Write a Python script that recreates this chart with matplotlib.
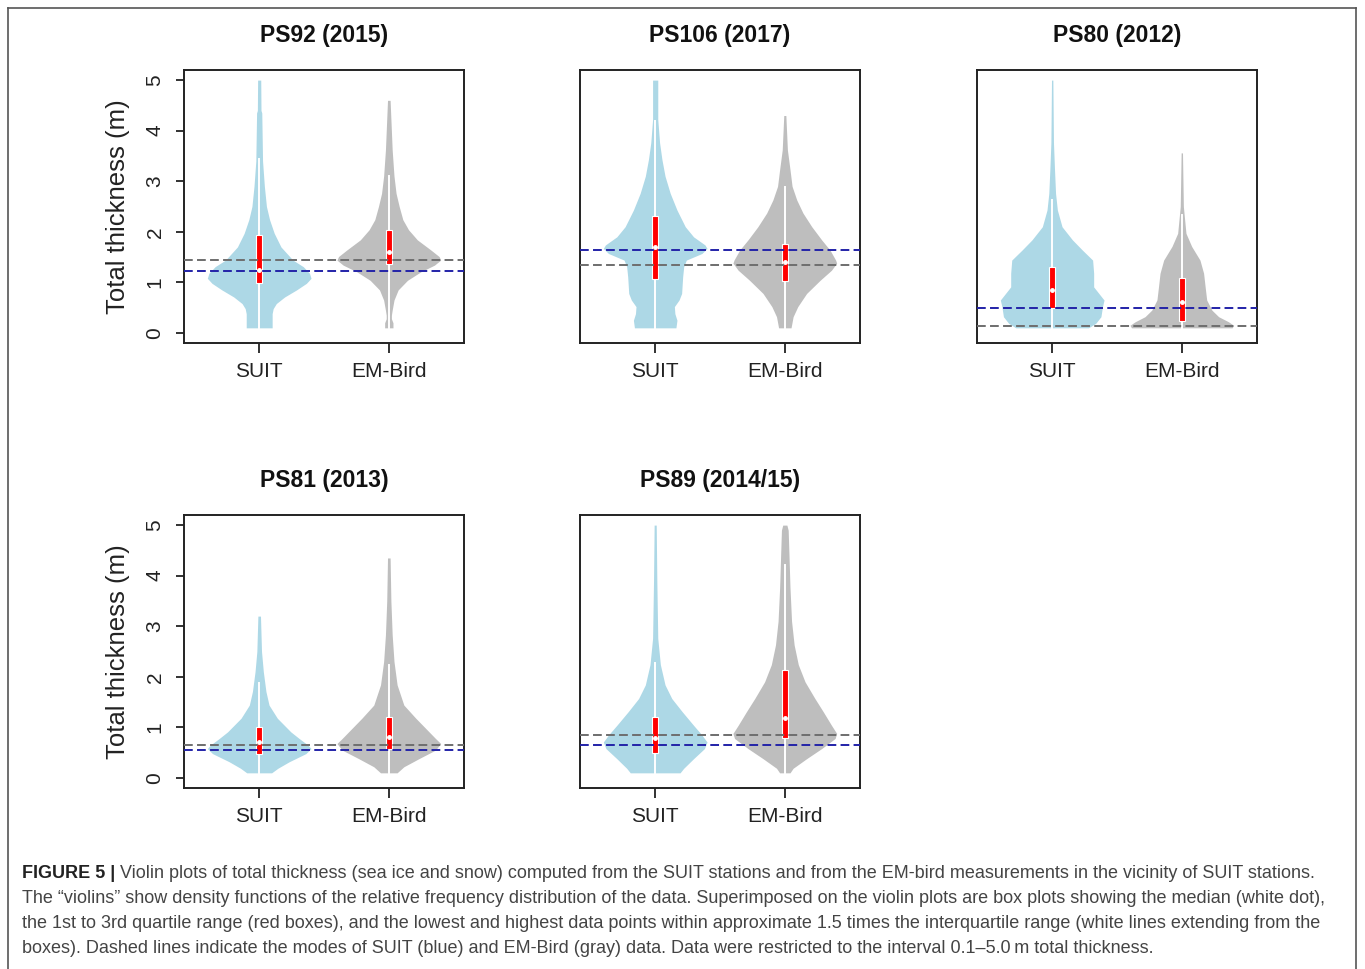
import matplotlib
matplotlib.use("Agg")
import matplotlib.pyplot as plt
from matplotlib.patches import Rectangle
from matplotlib.lines import Line2D
import numpy as np

plt.rcParams['font.family'] = ['Liberation Sans', 'DejaVu Sans']

W, H = 1365, 969

titles = ["PS92 (2015)", "PS106 (2017)", "PS80 (2012)", "PS81 (2013)", "PS89 (2014/15)"]
groups = ["SUIT", "EM-Bird"]

# violin profiles: thickness levels (m) and relative half-width (1 = widest)
suit_y = [
    [0.1, 0.2, 0.38, 0.48, 0.58, 0.71, 0.85, 0.98, 1.08, 1.18, 1.31, 1.44, 1.7, 1.97, 2.24, 2.5, 2.9, 3.4, 4.35, 4.4, 5.0],
    [0.1, 0.25, 0.38, 0.52, 0.65, 0.78, 1.11, 1.31, 1.44, 1.57, 1.67, 1.74, 1.9, 2.1, 2.43, 2.76, 3.1, 3.43, 3.76, 4.22, 5.0],
    [0.1, 0.19, 0.32, 0.52, 0.65, 0.78, 0.91, 1.18, 1.44, 1.64, 1.84, 2.1, 2.43, 2.76, 3.23, 3.76, 5.0],
    [0.1, 0.19, 0.32, 0.48, 0.58, 0.65, 0.78, 0.91, 1.18, 1.44, 1.71, 2.1, 2.5, 3.2],
    [0.1, 0.19, 0.38, 0.58, 0.71, 0.85, 1.04, 1.31, 1.57, 1.84, 2.24, 2.76, 3.89, 5.0],
]
suit_w = [
    [0.25, 0.25, 0.25, 0.27, 0.33, 0.49, 0.72, 0.91, 1.0, 0.97, 0.85, 0.65, 0.42, 0.29, 0.2, 0.14, 0.1, 0.065, 0.05, 0.035, 0.03],
    [0.4, 0.42, 0.38, 0.37, 0.46, 0.51, 0.53, 0.55, 0.6, 0.9, 1.0, 0.96, 0.74, 0.58, 0.42, 0.29, 0.19, 0.13, 0.085, 0.05, 0.05],
    [0.7, 0.84, 0.94, 0.97, 1.0, 0.9, 0.8, 0.8, 0.78, 0.58, 0.39, 0.19, 0.1, 0.065, 0.045, 0.025, 0.013],
    [0.24, 0.36, 0.58, 0.9, 1.0, 0.94, 0.77, 0.61, 0.35, 0.19, 0.13, 0.08, 0.045, 0.025],
    [0.48, 0.55, 0.74, 0.95, 1.0, 0.9, 0.74, 0.52, 0.32, 0.19, 0.1, 0.05, 0.032, 0.02],
]
emb_y = [
    [0.1, 0.2, 0.28, 0.35, 0.45, 0.65, 0.85, 1.04, 1.21, 1.34, 1.44, 1.51, 1.64, 1.84, 2.04, 2.24, 2.5, 2.76, 3.1, 3.62, 4.6],
    [0.1, 0.32, 0.52, 0.78, 1.04, 1.24, 1.38, 1.44, 1.64, 1.84, 2.1, 2.37, 2.63, 2.9, 3.23, 3.62, 4.3],
    [0.1, 0.15, 0.22, 0.32, 0.45, 0.65, 0.91, 1.18, 1.44, 1.71, 1.97, 2.5, 3.56],
    [0.1, 0.22, 0.38, 0.55, 0.68, 0.78, 0.98, 1.18, 1.44, 1.84, 2.3, 2.83, 3.5, 4.35],
    [0.1, 0.19, 0.38, 0.58, 0.78, 0.88, 1.04, 1.31, 1.57, 1.9, 2.24, 2.63, 3.1, 3.76, 4.42, 4.9, 5.0],
]
emb_w = [
    [0.08, 0.08, 0.05, 0.05, 0.065, 0.1, 0.18, 0.36, 0.62, 0.88, 1.0, 0.97, 0.81, 0.55, 0.38, 0.27, 0.2, 0.14, 0.1, 0.065, 0.025],
    [0.12, 0.16, 0.25, 0.42, 0.68, 0.9, 1.0, 0.98, 0.87, 0.71, 0.52, 0.35, 0.23, 0.14, 0.1, 0.05, 0.02],
    [0.97, 1.0, 0.9, 0.71, 0.58, 0.48, 0.45, 0.42, 0.35, 0.19, 0.08, 0.03, 0.013],
    [0.16, 0.29, 0.58, 0.9, 1.0, 0.9, 0.71, 0.52, 0.29, 0.16, 0.1, 0.065, 0.04, 0.025],
    [0.1, 0.16, 0.42, 0.71, 0.97, 1.0, 0.9, 0.74, 0.58, 0.39, 0.26, 0.18, 0.13, 0.1, 0.08, 0.065, 0.04],
]

# box plot stats: q1, median, q3, upper whisker (lower whisker = 0.1)
suit_q1 = [0.98, 1.06, 0.5, 0.48, 0.5]
suit_med = [1.24, 1.69, 0.85, 0.71, 0.78]
suit_q3 = [1.94, 2.32, 1.31, 1.01, 1.2]
suit_whi = [3.43, 4.2, 2.63, 1.87, 2.27]
emb_q1 = [1.36, 1.03, 0.24, 0.58, 0.79]
emb_med = [1.6, 1.41, 0.62, 0.81, 1.18]
emb_q3 = [2.04, 1.76, 1.08, 1.2, 2.14]
emb_whi = [3.1, 2.88, 2.33, 2.24, 4.22]
whisker_lo = 0.1

# modes (dashed lines)
suit_mode = [1.23, 1.64, 0.5, 0.55, 0.65]
emb_mode = [1.44, 1.35, 0.14, 0.65, 0.85]

caption_bold = "FIGURE 5 |"
caption_lines = [
    " Violin plots of total thickness (sea ice and snow) computed from the SUIT stations and from the EM-bird measurements in the vicinity of SUIT stations.",
    "The \u201cviolins\u201d show density functions of the relative frequency distribution of the data. Superimposed on the violin plots are box plots showing the median (white dot),",
    "the 1st to 3rd quartile range (red boxes), and the lowest and highest data points within approximate 1.5 times the interquartile range (white lines extending from the",
    "boxes). Dashed lines indicate the modes of SUIT (blue) and EM-Bird (gray) data. Data were restricted to the interval 0.1\u20135.0\u2009m total thickness.",
]

col_left = [184, 580, 977]
row_top = [70, 515]
ax_w, ax_h = 280, 273

fig = plt.figure(figsize=(W / 100, H / 100), dpi=100)

# outer frame
fc = "#555555"
fig.add_artist(Line2D([8 / W, 8 / W], [0, 1 - 8 / H], transform=fig.transFigure, color=fc, lw=1.2))
fig.add_artist(Line2D([1356 / W, 1356 / W], [0, 1 - 8 / H], transform=fig.transFigure, color=fc, lw=1.2))
fig.add_artist(Line2D([8 / W, 1356 / W], [1 - 8 / H, 1 - 8 / H], transform=fig.transFigure, color=fc, lw=1.2))


def violin(ax, pos, y, w, color, q1, med, q3, whi):
  y = np.array(y)
  w = np.array(w) * 0.4
  ax.fill_betweenx(y, pos - w, pos + w, color=color, lw=0, zorder=2)
  ax.plot([pos, pos], [whisker_lo, whi], color="white", lw=1.4, zorder=3)
  ax.add_patch(Rectangle((pos - 0.021, q1), 0.042, q3 - q1, facecolor="red",
                         edgecolor="white", lw=0.8, zorder=4))
  ax.plot([pos], [med], marker="o", ms=2.5, color="white", mec="white", zorder=6)


for i in range(5):
  r, c = divmod(i, 3)
  left = col_left[c]
  top = row_top[r]
  ax = fig.add_axes([left / W, 1 - (top + ax_h) / H, ax_w / W, ax_h / H])
  violin(ax, 1, suit_y[i], suit_w[i], "#add8e6", suit_q1[i], suit_med[i], suit_q3[i], suit_whi[i])
  violin(ax, 2, emb_y[i], emb_w[i], "#bebebe", emb_q1[i], emb_med[i], emb_q3[i], emb_whi[i])
  ax.axhline(emb_mode[i], color="#6e6e6e", lw=1.4, ls=(0, (4.5, 2.2)), zorder=5)
  ax.axhline(suit_mode[i], color="#2323a8", lw=1.4, ls=(0, (4.5, 2.2)), zorder=5)
  ax.set_xlim(0.42, 2.58)
  ax.set_ylim(-0.2, 5.2)
  ax.set_xticks([1, 2])
  ax.set_xticklabels(groups, fontsize=15)
  ax.tick_params(axis="x", length=7, width=1.3, pad=7, colors="#222222")
  for sp in ax.spines.values():
    sp.set_linewidth(1.4)
    sp.set_color("#222222")
  if c == 0:
    ax.set_yticks([0, 1, 2, 3, 4, 5])
    ax.tick_params(axis="y", length=6, width=1.3, pad=8, labelsize=15,
                   labelrotation=90, colors="#222222")
    for lab in ax.get_yticklabels():
      lab.set_verticalalignment("center")
    ax.text(-0.236, 0.5, "Total thickness (m)", transform=ax.transAxes, rotation=90,
            ha="center", va="center", fontsize=18.5, color="#222222")
  else:
    ax.set_yticks([])
  ax.text(0.5, 1 + 35 / ax_h, titles[i], transform=ax.transAxes, ha="center",
          va="center", fontsize=16.5, fontweight="bold", color="#111111")

# caption
cap_size = 13
y0 = 878
bold = fig.text(22 / W, 1 - y0 / H, caption_bold, fontsize=cap_size, fontweight="bold",
                color="#222222", va="baseline", ha="left")
fig.canvas.draw()
bw = bold.get_window_extent(renderer=fig.canvas.get_renderer()).width
for k, line in enumerate(caption_lines):
  x = 22 + (bw if k == 0 else 0)
  fig.text(x / W, 1 - (y0 + 25 * k) / H, line, fontsize=cap_size, color="#444444",
           va="baseline", ha="left")

plt.savefig("out.png", dpi=100)
